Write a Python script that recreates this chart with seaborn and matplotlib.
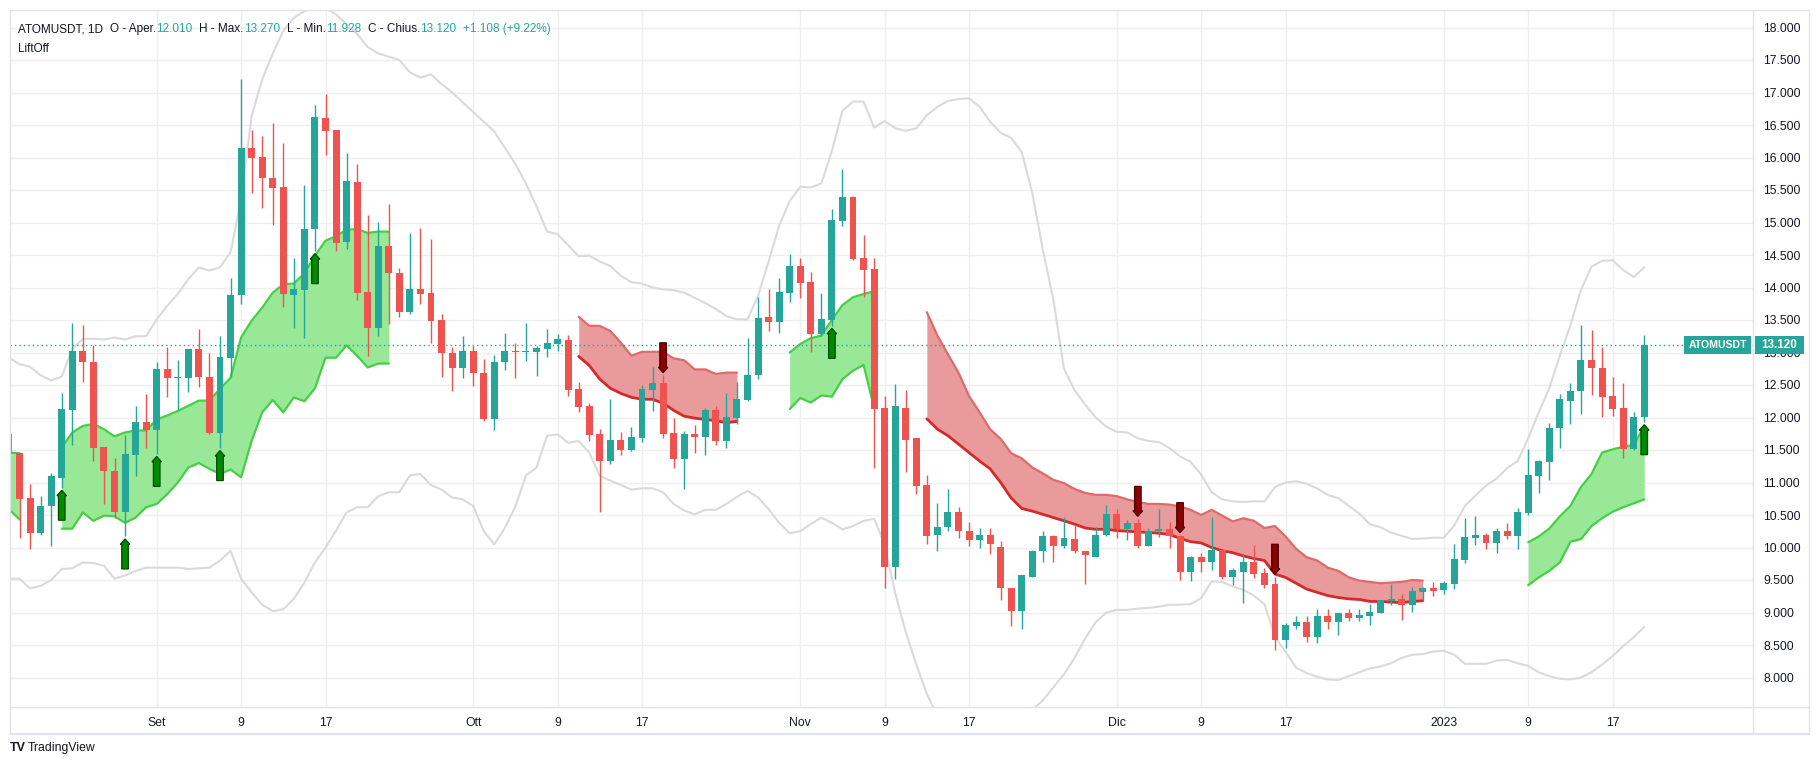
import numpy as np
import pandas as pd
import matplotlib
matplotlib.use("Agg")
import matplotlib.pyplot as plt
import matplotlib.transforms as mtrans
from matplotlib.patches import Polygon, Rectangle
from matplotlib.lines import Line2D
import seaborn as sns

sns.set_theme(style="white")
plt.rcParams['font.family'] = ['Liberation Sans', 'DejaVu Sans']

# ------------------------------------------------------------------ data
dates = pd.date_range("2022-08-18", "2023-01-20", freq="D")

opens = [11.74, 11.45, 10.76, 10.23, 10.64, 11.07, 12.12, 13.02, 12.85, 11.54,
         11.17, 10.55, 11.43, 11.93, 11.81, 12.74, 12.60, 12.61, 13.05, 12.63,
         11.76, 12.92, 13.89, 16.14, 16.00, 15.69, 15.54, 13.89, 13.96, 14.90,
         16.61, 16.42, 14.70, 15.62, 13.93, 13.38, 14.64, 14.22, 13.63, 13.97,
         13.91, 13.50, 12.99, 12.76, 13.02, 12.68, 11.97, 12.86, 13.02, 13.00,
         13.01, 13.06, 13.13, 13.19, 12.44, 12.17, 11.74, 11.33, 11.65, 11.50,
         11.68, 12.43, 12.53, 11.76, 11.36, 11.74, 11.70, 12.11, 11.64, 11.99,
         12.27, 12.66, 13.55, 13.47, 13.92, 14.33, 14.08, 13.28, 13.50, 15.03,
         15.39, 14.45, 14.28, 12.15, 9.70, 12.15, 11.68, 10.96, 10.20, 10.31,
         10.55, 10.25, 10.12, 10.20, 10.01, 9.37, 9.02, 9.55, 9.94, 10.18,
         10.03, 10.13, 9.95, 9.86, 10.19, 10.51, 10.28, 10.38, 10.03, 10.26,
         10.29, 10.18, 9.63, 9.85, 9.77, 9.96, 9.54, 9.63, 9.78, 9.61,
         9.44, 8.57, 8.80, 8.85, 8.63, 8.94, 8.86, 8.99, 8.91, 8.95,
         9.00, 9.18, 9.21, 9.12, 9.32, 9.38, 9.35, 9.44, 9.81, 10.15,
         10.19, 10.07, 10.25, 10.18, 10.53, 11.10, 11.32, 11.84, 12.25, 12.40,
         12.88, 12.76, 12.33, 12.15, 11.52, 12.010]
highs = [11.80, 11.46, 10.97, 10.79, 11.15, 12.38, 13.45, 13.43, 13.12, 11.55,
         11.37, 11.73, 12.17, 12.36, 12.85, 13.09, 12.88, 13.06, 13.36, 12.99,
         13.25, 14.15, 17.21, 16.42, 16.33, 16.53, 16.22, 14.45, 15.58, 16.81,
         16.98, 16.43, 16.07, 15.90, 15.12, 15.01, 15.28, 14.30, 14.84, 14.91,
         14.74, 13.59, 13.08, 13.25, 13.10, 12.90, 12.96, 13.30, 13.14, 13.46,
         13.10, 13.36, 13.28, 13.27, 12.54, 12.22, 11.82, 12.28, 11.77, 11.85,
         12.50, 12.77, 12.65, 12.00, 11.79, 11.89, 12.14, 12.17, 12.37, 12.55,
         13.23, 13.85, 13.97, 14.14, 14.51, 14.46, 14.24, 13.91, 15.21, 15.82,
         15.41, 14.81, 14.45, 12.33, 12.51, 12.42, 11.69, 11.11, 10.69, 10.90,
         10.63, 10.40, 10.30, 10.30, 10.10, 9.38, 9.58, 9.96, 10.25, 10.19,
         10.47, 10.34, 9.95, 10.32, 10.66, 10.59, 10.42, 10.44, 10.30, 10.59,
         10.40, 10.19, 9.87, 9.92, 10.47, 9.97, 9.69, 9.90, 10.04, 9.69,
         9.55, 8.84, 8.95, 8.95, 9.05, 9.05, 9.00, 9.05, 9.05, 9.13,
         9.19, 9.44, 9.28, 9.39, 9.39, 9.47, 9.48, 10.05, 10.45, 10.48,
         10.23, 10.30, 10.38, 10.61, 11.52, 11.35, 11.91, 12.36, 12.53, 13.43,
         13.35, 13.09, 12.62, 12.53, 12.08, 13.270]
lows = [11.40, 10.15, 9.97, 10.20, 10.03, 10.92, 11.58, 12.55, 11.33, 10.67,
        10.45, 10.17, 11.10, 11.53, 11.44, 12.32, 12.11, 12.39, 12.47, 11.75,
        11.53, 12.62, 13.74, 15.46, 15.23, 14.96, 13.70, 13.38, 13.23, 14.56,
        16.04, 14.56, 14.60, 13.81, 12.95, 13.26, 13.44, 13.55, 13.59, 13.75,
        13.15, 12.63, 12.41, 12.61, 12.49, 11.95, 11.81, 12.73, 12.61, 12.87,
        12.64, 12.93, 13.03, 12.33, 12.09, 11.64, 10.54, 11.28, 11.43, 11.49,
        11.63, 12.10, 11.69, 11.23, 10.90, 11.45, 11.43, 11.57, 11.53, 11.90,
        12.25, 12.59, 13.33, 13.30, 13.78, 13.84, 13.01, 13.26, 13.41, 14.95,
        14.42, 13.86, 11.23, 9.38, 9.52, 11.16, 10.82, 10.05, 9.95, 10.25,
        10.15, 10.02, 10.00, 9.90, 9.20, 8.80, 8.74, 9.54, 9.78, 9.77,
        10.00, 9.91, 9.44, 9.85, 10.18, 10.14, 10.12, 9.99, 10.02, 10.16,
        10.00, 9.50, 9.48, 9.63, 9.65, 9.52, 9.42, 9.14, 9.53, 9.38,
        8.42, 8.46, 8.74, 8.55, 8.53, 8.75, 8.66, 8.87, 8.87, 8.81,
        8.99, 9.12, 8.89, 9.01, 9.19, 9.26, 9.29, 9.36, 9.76, 10.04,
        9.98, 9.91, 10.13, 9.98, 10.50, 10.84, 11.04, 11.53, 11.90, 12.05,
        12.35, 12.01, 12.03, 11.38, 11.50, 11.928]
closes = [11.44, 10.75, 10.23, 10.64, 11.10, 12.13, 13.02, 12.86, 11.53, 11.17,
          10.55, 11.44, 11.93, 11.81, 12.74, 12.61, 12.62, 13.05, 12.63, 11.76,
          12.93, 13.88, 16.14, 16.00, 15.69, 15.53, 13.90, 13.97, 14.90, 16.62,
          16.41, 14.69, 15.64, 13.92, 13.38, 14.64, 14.23, 13.63, 13.97, 13.90,
          13.49, 12.99, 12.76, 13.02, 12.68, 11.97, 12.85, 13.02, 13.00, 13.02,
          13.07, 13.15, 13.21, 12.43, 12.16, 11.73, 11.33, 11.65, 11.50, 11.70,
          12.44, 12.53, 11.75, 11.36, 11.74, 11.70, 12.11, 11.64, 12.01, 12.28,
          12.65, 13.53, 13.47, 13.93, 14.33, 14.07, 13.28, 13.51, 15.04, 15.39,
          14.44, 14.27, 12.13, 9.70, 12.17, 11.66, 10.94, 10.17, 10.32, 10.55,
          10.25, 10.12, 10.20, 10.05, 9.37, 9.02, 9.57, 9.95, 10.18, 10.03,
          10.14, 9.94, 9.88, 10.19, 10.51, 10.28, 10.38, 10.03, 10.26, 10.29,
          10.18, 9.63, 9.85, 9.77, 9.96, 9.54, 9.65, 9.78, 9.60, 9.43,
          8.57, 8.81, 8.85, 8.63, 8.94, 8.86, 8.99, 8.91, 8.96, 9.01,
          9.19, 9.21, 9.12, 9.33, 9.38, 9.33, 9.46, 9.82, 10.16, 10.19,
          10.07, 10.25, 10.18, 10.54, 11.12, 11.33, 11.84, 12.28, 12.40, 12.88,
          12.76, 12.32, 12.13, 11.52, 12.00, 13.120]

upper_band = [12.92, 12.82, 12.78, 12.65, 12.57, 12.63, 13.05, 13.21, 13.21, 13.20,
              13.23, 13.20, 13.25, 13.25, 13.51, 13.72, 13.90, 14.13, 14.31, 14.26,
              14.31, 14.54, 15.36, 16.64, 17.20, 17.60, 17.95, 18.15, 18.25, 18.30,
              18.30, 18.20, 18.05, 17.90, 17.70, 17.60, 17.55, 17.50, 17.31, 17.23,
              17.28, 17.13, 17.00, 16.85, 16.70, 16.55, 16.40, 16.15, 15.90, 15.60,
              15.25, 14.86, 14.82, 14.65, 14.48, 14.49, 14.40, 14.33, 14.18, 14.08,
              14.06, 14.00, 13.97, 13.96, 13.92, 13.84, 13.76, 13.67, 13.56, 13.51,
              13.51, 13.87, 14.40, 14.95, 15.33, 15.55, 15.54, 15.60, 16.10, 16.72,
              16.86, 16.86, 16.46, 16.56, 16.45, 16.41, 16.45, 16.65, 16.78, 16.87,
              16.90, 16.91, 16.78, 16.55, 16.38, 16.30, 16.08, 15.45, 14.57, 13.81,
              12.75, 12.42, 12.20, 12.00, 11.86, 11.78, 11.77, 11.68, 11.64, 11.62,
              11.53, 11.40, 11.32, 11.12, 10.85, 10.74, 10.71, 10.70, 10.71, 10.71,
              10.93, 11.00, 11.02, 10.98, 10.91, 10.81, 10.76, 10.64, 10.52, 10.36,
              10.31, 10.23, 10.18, 10.13, 10.14, 10.15, 10.15, 10.34, 10.64, 10.80,
              10.95, 11.06, 11.22, 11.33, 11.68, 12.08, 12.45, 12.95, 13.42, 13.96,
              14.32, 14.41, 14.42, 14.27, 14.16, 14.31]
lower_band = [9.52, 9.52, 9.37, 9.41, 9.50, 9.67, 9.68, 9.77, 9.76, 9.72,
              9.52, 9.57, 9.64, 9.69, 9.69, 9.69, 9.69, 9.67, 9.68, 9.69,
              9.80, 9.95, 9.52, 9.31, 9.12, 9.02, 9.05, 9.21, 9.46, 9.77,
              10.00, 10.26, 10.54, 10.62, 10.62, 10.79, 10.85, 10.85, 11.11, 11.13,
              10.96, 10.89, 10.77, 10.74, 10.64, 10.25, 10.05, 10.30, 10.63, 11.11,
              11.23, 11.72, 11.74, 11.61, 11.64, 11.46, 11.10, 11.03, 10.96, 10.89,
              10.91, 10.91, 10.85, 10.67, 10.57, 10.51, 10.58, 10.58, 10.67, 10.78,
              10.87, 10.77, 10.59, 10.38, 10.22, 10.25, 10.36, 10.46, 10.38, 10.28,
              10.33, 10.41, 10.44, 10.05, 9.30, 8.70, 8.20, 7.75, 7.40, 7.20,
              7.10, 7.00, 7.00, 7.05, 7.10, 7.20, 7.35, 7.50, 7.65, 7.85,
              8.05, 8.30, 8.60, 8.85, 9.00, 9.04, 9.04, 9.06, 9.07, 9.09,
              9.12, 9.12, 9.13, 9.22, 9.48, 9.47, 9.40, 9.35, 9.26, 9.13,
              8.62, 8.40, 8.15, 8.07, 8.01, 7.97, 7.96, 8.02, 8.08, 8.14,
              8.17, 8.22, 8.30, 8.35, 8.36, 8.40, 8.41, 8.35, 8.21, 8.21,
              8.21, 8.26, 8.27, 8.22, 8.18, 8.08, 8.02, 7.98, 7.97, 8.00,
              8.08, 8.20, 8.33, 8.48, 8.62, 8.78]

# LiftOff zones (bullish = green, bearish = red)
bull1_start = "2022-08-18"
bull1_top = [11.46, 11.45]
bull1_bot = [10.59, 10.43]
bull2_start = "2022-08-23"
bull2_top = [11.54, 11.77, 11.87, 11.90, 11.82, 11.71, 11.77, 11.80, 11.80, 11.97,
             12.03, 12.10, 12.18, 12.26, 12.26, 12.44, 12.61, 13.23, 13.49, 13.69,
             13.92, 14.05, 14.06, 14.22, 14.49, 14.72, 14.79, 14.89, 14.90, 14.84,
             14.86, 14.86]
bull2_bot = [10.29, 10.29, 10.54, 10.41, 10.49, 10.48, 10.38, 10.46, 10.62, 10.67,
             10.82, 11.00, 11.23, 11.30, 11.21, 11.13, 11.20, 11.08, 11.64, 12.08,
             12.27, 12.08, 12.31, 12.25, 12.45, 12.92, 12.92, 13.11, 12.95, 12.77,
             12.83, 12.83]
bull3_start = "2022-10-31"
bull3_top = [13.00, 13.13, 13.22, 13.26, 13.50, 13.73, 13.85, 13.90, 13.94]
bull3_bot = [12.13, 12.30, 12.23, 12.34, 12.32, 12.59, 12.72, 12.81, 12.15]
bull4_start = "2023-01-09"
bull4_top = [10.08, 10.17, 10.29, 10.48, 10.64, 10.93, 11.13, 11.46, 11.51, 11.55,
             11.58, 11.86]
bull4_bot = [9.42, 9.54, 9.64, 9.77, 10.09, 10.13, 10.33, 10.45, 10.55, 10.62,
             10.68, 10.74]
bear1_start = "2022-10-11"
bear1_top = [13.55, 13.41, 13.41, 13.33, 13.15, 12.95, 13.01, 13.01, 13.01, 12.91,
             12.88, 12.74, 12.74, 12.67, 12.69, 12.69]
bear1_bot = [12.94, 12.80, 12.59, 12.45, 12.37, 12.31, 12.28, 12.28, 12.22, 12.11,
             12.02, 11.99, 11.97, 11.95, 11.92, 11.94]
bear2_start = "2022-11-13"
bear2_top = [13.62, 13.26, 12.97, 12.69, 12.33, 12.08, 11.82, 11.67, 11.45, 11.37,
             11.23, 11.14, 11.04, 10.99, 10.90, 10.84, 10.81, 10.81, 10.79, 10.74,
             10.70, 10.67, 10.67, 10.66, 10.63, 10.58, 10.50, 10.58, 10.49, 10.40,
             10.45, 10.41, 10.30, 10.33, 10.17, 9.98, 9.85, 9.80, 9.69, 9.64,
             9.54, 9.49, 9.47, 9.45, 9.46, 9.47, 9.50, 9.49]
bear2_bot = [11.98, 11.82, 11.72, 11.59, 11.46, 11.33, 11.21, 11.00, 10.76, 10.60,
             10.56, 10.51, 10.46, 10.41, 10.36, 10.30, 10.28, 10.28, 10.26, 10.25,
             10.24, 10.23, 10.22, 10.20, 10.14, 10.09, 10.07, 10.00, 9.95, 9.92,
             9.87, 9.83, 9.80, 9.59, 9.54, 9.45, 9.36, 9.31, 9.26, 9.23,
             9.21, 9.20, 9.17, 9.17, 9.16, 9.15, 9.17, 9.18]

buy_signal_dates = ["2022-08-23", "2022-08-29", "2022-09-01", "2022-09-07",
                    "2022-09-16", "2022-11-04", "2023-01-20"]
sell_signal_dates = ["2022-10-19", "2022-12-03", "2022-12-07", "2022-12-16"]

tick_dates = ["2022-09-01", "2022-09-09", "2022-09-17", "2022-10-01", "2022-10-09",
              "2022-10-17", "2022-11-01", "2022-11-09", "2022-11-17", "2022-12-01",
              "2022-12-09", "2022-12-17", "2023-01-01", "2023-01-09", "2023-01-17"]
tick_labels = ["Set", "9", "17", "Ott", "9", "17", "Nov", "9", "17", "Dic",
               "9", "17", "2023", "9", "17"]
price_ticks = [8.0, 8.5, 9.0, 9.5, 10.0, 10.5, 11.0, 11.5, 12.0, 12.5, 13.0,
               13.5, 14.0, 14.5, 15.0, 15.5, 16.0, 16.5, 17.0, 17.5, 18.0]

# ------------------------------------------------------------------ styles
UP, DOWN = "#26a69a", "#ef5350"
TXT = "#131722"
GRID = "#efefef"
BORDER = "#e0e3eb"
W, H = 1819, 770

def pos(d):
    return dates.get_loc(pd.Timestamp(d))

x = np.arange(len(dates))
o, h, l, c = map(np.asarray, (opens, highs, lows, closes))

fig = plt.figure(figsize=(W / 100, H / 100), dpi=100)
fig.patch.set_facecolor("white")
ax = fig.add_axes([10 / W, 1 - 707 / H, (1753 - 10) / W, (707 - 10) / H])
ax.set_facecolor("white")

# Bollinger-like outer bands
sns.lineplot(x=x, y=upper_band, ax=ax, color="#dadada", lw=1.5, zorder=1.5, legend=False)
sns.lineplot(x=x, y=lower_band, ax=ax, color="#dadada", lw=1.5, zorder=1.5, legend=False)

# zones
for start, top, bot, kind in [
    (bull1_start, bull1_top, bull1_bot, "bull"),
    (bull2_start, bull2_top, bull2_bot, "bull"),
    (bull3_start, bull3_top, bull3_bot, "bull"),
    (bull4_start, bull4_top, bull4_bot, "bull"),
    (bear1_start, bear1_top, bear1_bot, "bear"),
    (bear2_start, bear2_top, bear2_bot, "bear"),
]:
    xs = pos(start) + np.arange(len(top))
    if kind == "bull":
        ax.fill_between(xs, bot, top, color="#98e898", lw=0, zorder=1.2)
        sns.lineplot(x=xs, y=top, ax=ax, color="#45cf45", lw=1.6, zorder=1.3, legend=False)
        sns.lineplot(x=xs, y=bot, ax=ax, color="#45cf45", lw=1.6, zorder=1.3, legend=False)
    else:
        ax.fill_between(xs, bot, top, color="#e99a9a", lw=0, zorder=1.2)
        sns.lineplot(x=xs, y=top, ax=ax, color="#de6a6a", lw=1.6, zorder=1.3, legend=False)
        sns.lineplot(x=xs, y=bot, ax=ax, color="#d42a2a", lw=2.0, zorder=1.3, legend=False)

# candles
cols = np.where(c >= o, UP, DOWN)
ax.vlines(x, l, h, colors=cols, lw=1.0, zorder=3)
body_lo = np.minimum(o, c)
body_h = np.maximum(np.abs(c - o), 0.02)
ax.bar(x, body_h, bottom=body_lo, width=0.66, color=cols, lw=0, zorder=3.1)

# last price line
ax.axhline(closes[-1], color=UP, lw=1.0, ls=(0, (1, 2.2)), zorder=2)

# signal arrows
day_px = 10.55
unit_px = 65.0
sw, hw = 3.3 / day_px, 4.8 / day_px
head, length, gap = 5.5 / unit_px, 30 / unit_px, 2.5 / unit_px
for d in buy_signal_dates:
    i = pos(d)
    tip = l[i] - gap
    tail = tip - length
    pts = [(i - sw, tail), (i + sw, tail), (i + sw, tip - head), (i + hw, tip - head),
           (i, tip), (i - hw, tip - head), (i - sw, tip - head)]
    ax.add_patch(Polygon(pts, closed=True, fc="#008a00", ec="#004a00", lw=0.9, zorder=4))
for d in sell_signal_dates:
    i = pos(d)
    tip = h[i] + gap
    tail = tip + length
    pts = [(i - sw, tail), (i + sw, tail), (i + sw, tip + head), (i + hw, tip + head),
           (i, tip), (i - hw, tip + head), (i - sw, tip + head)]
    ax.add_patch(Polygon(pts, closed=True, fc="#8b0000", ec="#4d0000", lw=0.9, zorder=4))

# axes cosmetics
x_left = (10 - 156.7) / day_px + pos("2022-09-01")
x_right = (1753 - 156.7) / day_px + pos("2022-09-01")
ax.set_xlim(x_left, x_right)
ax.set_ylim(18 - (707 - 27.5) / unit_px, 18 + (27.5 - 10) / unit_px)
ax.set_xticks([pos(d) for d in tick_dates])
ax.set_xticklabels(tick_labels)
ax.yaxis.tick_right()
ax.set_yticks(price_ticks)
ax.set_yticklabels([f"{v:.3f}" for v in price_ticks])
ax.tick_params(axis="y", length=0, pad=7.5, labelsize=8.8, labelcolor=TXT)
ax.tick_params(axis="x", length=0, pad=7.5, labelsize=8.8, labelcolor=TXT)
for lab in ax.get_yticklabels():
    lab.set_horizontalalignment("left")
ax.grid(True, color=GRID, lw=1.0, zorder=0)
ax.set_axisbelow(True)
for s in ax.spines.values():
    s.set_visible(False)
ax.set_xlabel("")
ax.set_ylabel("")

# panel borders
def fline(x0, y0, x1, y1, lw=1.0, color=BORDER):
    fig.add_artist(Line2D([x0 / W, x1 / W], [1 - y0 / H, 1 - y1 / H],
                          transform=fig.transFigure, color=color, lw=lw))
fline(10, 10, 1809, 10)
fline(10, 10, 10, 734)
fline(1809, 10, 1809, 734)
fline(10, 734, 1809, 734, lw=1.5)
fline(1753, 10, 1753, 734)
fline(10, 707, 1809, 707)

# price labels on the axis
trans = mtrans.blended_transform_factory(fig.transFigure, ax.transData)
bh = 18 / unit_px
for x0, x1, txt, fs in [(1684, 1751, "ATOMUSDT", 7.6), (1755, 1804, f"{closes[-1]:.3f}", 8.4)]:
    fig.add_artist(Rectangle((x0 / W, closes[-1] - bh / 2), (x1 - x0) / W, bh,
                             transform=trans, fc=UP, ec="none"))
    fig.text((x0 + x1) / 2 / W, closes[-1], txt, transform=trans, color="white",
             fontsize=fs, weight="bold", ha="center", va="center")

# header text
renderer = fig.canvas.get_renderer()
def pieces(x_px, y_px, items, size):
    xp = x_px
    for txt, col, gap_px in items:
        xp += gap_px
        t = fig.text(xp / W, 1 - y_px / H, txt, color=col, fontsize=size,
                     ha="left", va="center")
        xp = t.get_window_extent(renderer=renderer).x1

pieces(18, 29, [("ATOMUSDT, 1D", TXT, 0), ("O - Aper.", TXT, 7), ("12.010", UP, 0),
                ("H - Max.", TXT, 7), ("13.270", UP, 0), ("L - Min.", TXT, 7),
                ("11.928", UP, 0), ("C - Chius.", TXT, 7), ("13.120", UP, 0),
                ("+1.108 (+9.22%)", UP, 7)], 8.5)
fig.text(18 / W, 1 - 49 / H, "LiftOff", color=TXT, fontsize=8.5, ha="left", va="center")

# footer logo
fig.text(10 / W, 1 - 748 / H, "TV", color=TXT, fontsize=9, weight="heavy",
         ha="left", va="center")
fig.text(28 / W, 1 - 748 / H, "TradingView", color=TXT, fontsize=8.8,
         ha="left", va="center")

fig.savefig("out.png", dpi=100, facecolor="white")
